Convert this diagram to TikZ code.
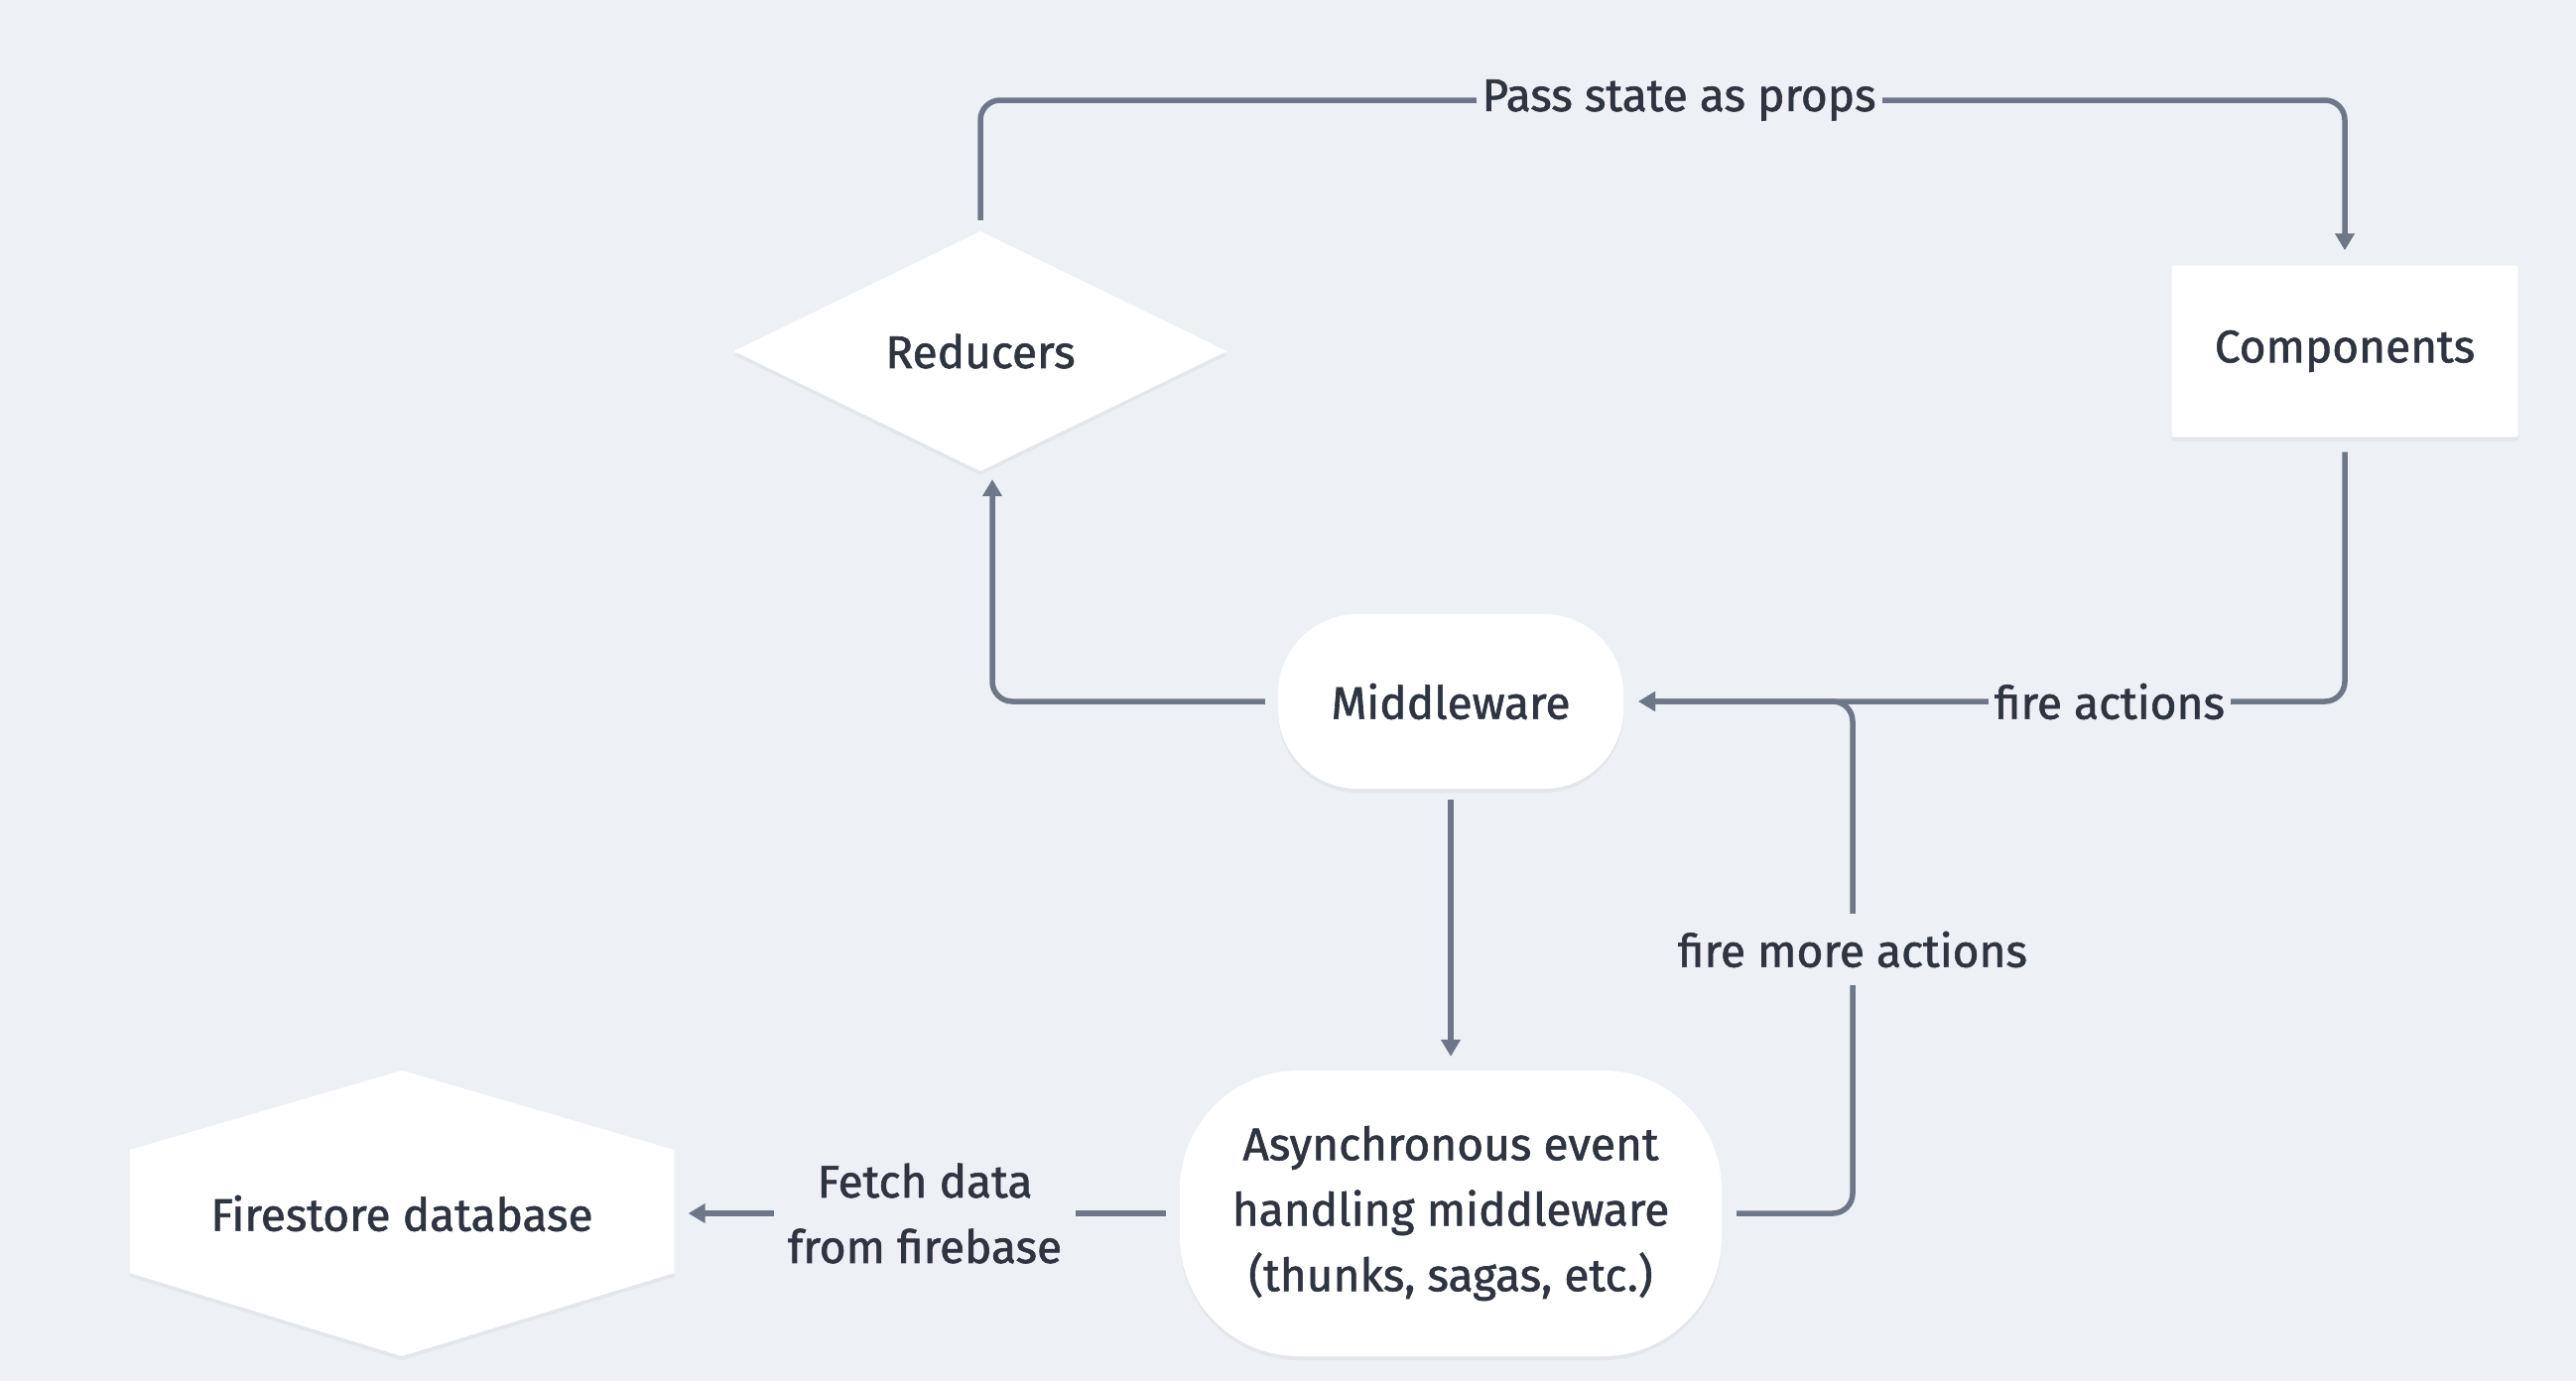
\documentclass[tikz,border=0pt]{standalone}
\usepackage{fontspec}
\setmainfont{Fira Sans}[UprightFeatures={FakeBold=1.3}]
\usetikzlibrary{arrows.meta,shapes.geometric,shadows,calc}
\definecolor{bgc}{RGB}{237,240,244}
\definecolor{linec}{RGB}{110,119,135}
\definecolor{txtc}{RGB}{46,52,64}
\begin{document}
\begin{tikzpicture}[x=1pt,y=-1pt,
  every node/.style={font=\fontsize{46}{66}\selectfont, text=txtc, align=center},
  shade/.style={drop shadow={shadow xshift=0pt, shadow yshift=-4pt, opacity=0.04, fill=black}},
  box/.style={fill=white, draw=none, shade, inner sep=0pt},
  conn/.style={draw=linec, line width=5.5pt, rounded corners=20pt, -{Triangle[length=17pt,width=19pt]}},
  lbl/.style={fill=bgc, inner sep=10pt}
]
\fill[bgc] (0,0) rectangle (2596,1392);
\useasboundingbox (0,0) rectangle (2596,1392);

% nodes
\node[box, diamond, shape aspect=2.05, minimum width=497pt, minimum height=242pt] (red) at (988,354) {Reducers};
\node[box, rectangle, minimum width=349pt, minimum height=173pt, rounded corners=2pt] (comp) at (2363,354) {Components};
\node[box, rectangle, minimum width=348pt, minimum height=176pt, rounded corners=80pt] (mw) at (1462,707) {Middleware};
\node[box, rectangle, minimum width=546pt, minimum height=288pt, rounded corners=120pt] (async) at (1462,1223) {Asynchronous event\\handling middleware\\(thunks, sagas, etc.)};
\coordinate (fsc) at (405,1223);
\fill[white, shade] ($(fsc)+(0,-144)$) -- ($(fsc)+(274.5,-64)$) -- ($(fsc)+(274.5,60)$) -- ($(fsc)+(0,144)$) -- ($(fsc)+(-274.5,60)$) -- ($(fsc)+(-274.5,-64)$) -- cycle;
\node[inner sep=0pt, minimum width=549pt, minimum height=288pt] (fs) at (fsc) {Firestore database};

\coordinate (top) at (0,101);
\coordinate (join) at (1867,707);

% connectors
\draw[conn, shorten <=11pt, shorten >=15pt] (red.north) -- (red.north |- top) -| (comp.north);
\draw[conn, shorten <=15pt, shorten >=15pt] (comp.south) |- (mw.east);
\draw[conn, shorten <=13pt, shorten >=8pt] (mw.west) -| ([xshift=12pt]red.south);
\draw[conn, shorten <=11pt, shorten >=14pt] (mw.south) -- (async.north);
\draw[conn, shorten <=15pt, shorten >=15pt] (async.east) -- (async.east -| join) -- (join) -- (mw.east);
\draw[conn, shorten <=14pt, shorten >=14pt] (async.west) -- (fs.east);

% labels
\node[lbl, inner sep=6pt] (l1) at (1692,101) {Pass state as props};
\node[lbl, inner sep=6pt] (l2) at (2126,707) {fire actions};
\node[lbl, inner sep=18pt] (l3) at (1867,957) {fire more actions};
\node[lbl, inner sep=14pt] (l4) at (932,1223) {Fetch data\\from firebase};
\end{tikzpicture}
\end{document}
